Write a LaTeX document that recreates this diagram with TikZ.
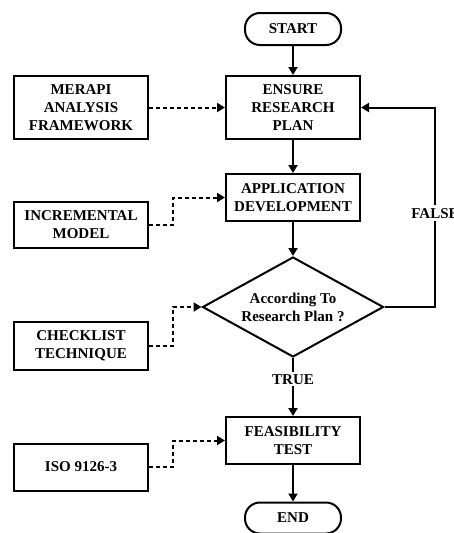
\documentclass[tikz,border=0pt]{standalone}
\usepackage{fontspec}
\setmainfont{Liberation Serif}
\usepackage{tikz}
\usetikzlibrary{shapes.geometric,arrows.meta}

\begin{document}
\begin{tikzpicture}[x=1pt,y=-1pt]
		\tikzstyle{every node}+=[font=\fontsize{15}{18}\selectfont\bfseries, align=center, inner sep=0pt]
		\tikzstyle{proc}=[draw=black, line width=2pt, minimum width=134pt]
		\tikzstyle{term}=[draw=black, line width=2pt, rounded corners=15pt, minimum width=96pt]
		\tikzstyle{flow}=[black, line width=2pt, -{Triangle[length=8pt,width=9pt]}]
		\tikzstyle{aid}=[flow, dash pattern=on 4pt off 3pt]
		\useasboundingbox (0,0) rectangle (454,533);
		\node [term, minimum height=32pt] (start) at (293,29) {START};
		\node [proc, minimum height=63pt] (plan) at (293,107.5) {ENSURE\\RESEARCH\\PLAN};
		\node [proc, minimum height=63pt] (merapi) at (81,107.5) {MERAPI\\ANALYSIS\\FRAMEWORK};
		\node [proc, minimum height=47pt] (dev) at (293,197.5) {APPLICATION\\DEVELOPMENT};
		\node [proc, minimum height=46pt] (incr) at (81,225) {INCREMENTAL\\MODEL};
		\node [diamond, aspect=1.81, draw=black, line width=2pt, minimum width=181pt, minimum height=100pt] (check) at (293,307) {According To\\Research Plan ?};
		\node [proc, minimum height=48pt] (tech) at (81,346) {CHECKLIST\\TECHNIQUE};
		\node [proc, minimum height=47pt] (feas) at (293,440.5) {FEASIBILITY\\TEST};
		\node [proc, minimum height=47pt] (iso) at (81,467) {ISO 9126-3};
		\node [term, minimum height=31pt] (end) at (293,518) {END};
		\coordinate (corner) at (435,307);
		% main flow
		\draw [flow] (start) -- (plan);
		\draw [flow] (plan) -- (dev);
		\draw [flow] (dev) -- (check);
		\draw [flow] (check) -- node [pos=0.37, fill=white, inner sep=2pt] (true) {TRUE} (feas);
		\draw [flow] (feas) -- (end);
		\draw [flow] (check.east) -- (corner) -- node [pos=0.47, fill=white, inner ysep=3pt, inner xsep=1pt] (false) {FALSE} (corner |- plan.east) -- (plan.east);
		% supporting methods
		\draw [aid] (merapi) -- (plan);
		\draw [aid] (incr.east) -- ++(24,0) |- (dev.west);
		\draw [aid] (tech.east) -- ++(24,0) |- (check.west);
		\draw [aid] (iso.east) -- ++(24,0) |- (feas.west);
	\end{tikzpicture}
\end{document}
